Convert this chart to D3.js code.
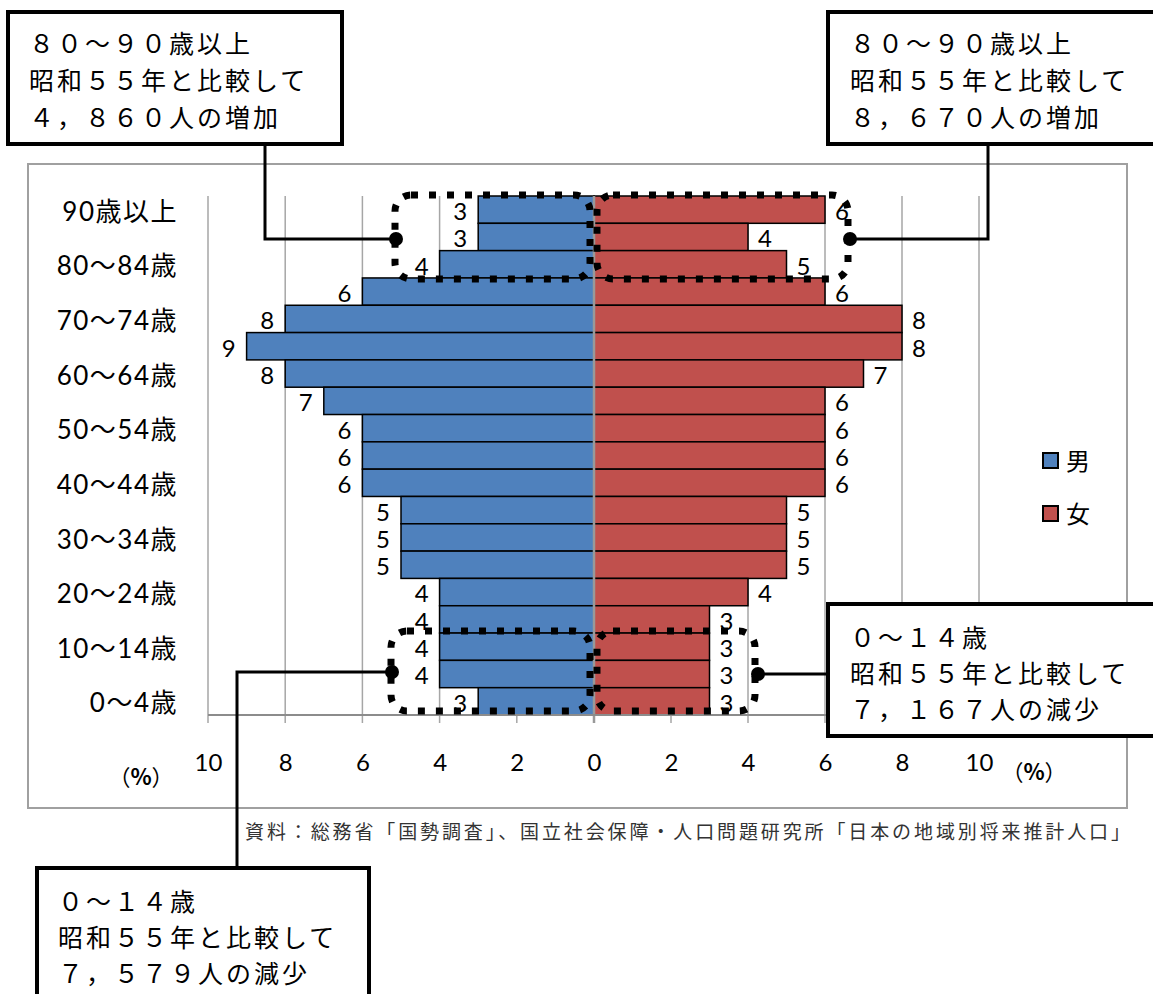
<!DOCTYPE html>
<html lang="ja">
<head>
<meta charset="utf-8">
<title>人口ピラミッド</title>
<script src="https://cdn.jsdelivr.net/npm/d3@7"></script>
<style>
  html, body { margin: 0; padding: 0; background: #fff; }
  svg { display: block; }
</style>
</head>
<body>
<div id="chart"></div>
<script>
// 年齢階級（上から順）
const ageGroups = ["90歳以上","85〜89歳","80〜84歳","75〜79歳","70〜74歳","65〜69歳","60〜64歳",
  "55〜59歳","50〜54歳","45〜49歳","40〜44歳","35〜39歳","30〜34歳","25〜29歳",
  "20〜24歳","15〜19歳","10〜14歳","5〜9歳","0〜4歳"];
// 構成比（%）
const maleShare   = [3,3,4,6,8,9,8,7,6,6,6,5,5,5,4,4,4,4,3];
const femaleShare = [6,4,5,6,8,8,7,6,6,6,6,5,5,5,4,3,3,3,3];
// 縦軸に表示する階級
const shownAgeLabels = ["90歳以上","80〜84歳","70〜74歳","60〜64歳","50〜54歳",
  "40〜44歳","30〜34歳","20〜24歳","10〜14歳","0〜4歳"];
const axisTicks = [0,2,4,6,8,10];
const seriesNames = ["男","女"];
const seriesColors = ["#4F81BD","#C0504D"];

const sourceNote = "資料：総務省「国勢調査」、国立社会保障・人口問題研究所「日本の地域別将来推計人口」";

// 吹き出しの文
const noteOldMale   = ["８０〜９０歳以上","昭和５５年と比較して","４，８６０人の増加"];
const noteOldFemale = ["８０〜９０歳以上","昭和５５年と比較して","８，６７０人の増加"];
const noteYoungFemale = ["０〜１４歳","昭和５５年と比較して","７，１６７人の減少"];
const noteYoungMale   = ["０〜１４歳","昭和５５年と比較して","７，５７９人の減少"];

const W = 1153, H = 994;
const svg = d3.select("#chart").append("svg")
  .attr("width", W).attr("height", H)
  .style("background", "#fff");

const numFont = "Lato, 'Noto Sans CJK JP', sans-serif";
const jpFont = "'Noto Sans CJK JP', sans-serif";

// 外枠
svg.append("rect")
  .attr("x", 28).attr("y", 164).attr("width", 1099).attr("height", 644)
  .attr("fill", "none").attr("stroke", "#a0a0a0").attr("stroke-width", 2);

const zeroX = 594, plotTop = 196, plotBottom = 715;
const xMale = d3.scaleLinear().domain([0, 10]).range([zeroX, 208]);
const xFemale = d3.scaleLinear().domain([0, 10]).range([zeroX, 979]);
const y = d3.scaleBand().domain(ageGroups).range([plotTop, plotBottom]).padding(0);

// 目盛線
const gridG = svg.append("g");
[xMale, xFemale].forEach(sc => {
  axisTicks.filter(t => t > 0).forEach(t => {
    gridG.append("line")
      .attr("x1", sc(t)).attr("x2", sc(t))
      .attr("y1", plotTop).attr("y2", plotBottom + 8)
      .attr("stroke", "#a6a6a6").attr("stroke-width", 1.5);
  });
});

// 棒
const barsG = svg.append("g");
barsG.selectAll("rect.male").data(ageGroups).join("rect")
  .attr("class", "male")
  .attr("x", (d, i) => xMale(maleShare[i]))
  .attr("y", d => y(d))
  .attr("width", (d, i) => zeroX - xMale(maleShare[i]))
  .attr("height", y.bandwidth())
  .attr("fill", seriesColors[0]).attr("stroke", "#000").attr("stroke-width", 1.5);
barsG.selectAll("rect.female").data(ageGroups).join("rect")
  .attr("class", "female")
  .attr("x", zeroX)
  .attr("y", d => y(d))
  .attr("width", (d, i) => xFemale(femaleShare[i]) - zeroX)
  .attr("height", y.bandwidth())
  .attr("fill", seriesColors[1]).attr("stroke", "#000").attr("stroke-width", 1.5);

// 中央線と横軸
svg.append("line")
  .attr("x1", zeroX).attr("x2", zeroX).attr("y1", plotTop).attr("y2", plotBottom + 8)
  .attr("stroke", "#999").attr("stroke-width", 2.5);
svg.append("line")
  .attr("x1", xMale(10)).attr("x2", xFemale(10)).attr("y1", plotBottom).attr("y2", plotBottom)
  .attr("stroke", "#8c8c8c").attr("stroke-width", 2);

// 目盛ラベル
[xMale, xFemale].forEach(sc => {
  const ax = svg.append("g").attr("transform", `translate(0,${plotBottom})`)
    .call(d3.axisBottom(sc).tickValues(sc === xMale ? axisTicks : axisTicks.filter(t => t > 0))
      .tickSize(0).tickPadding(0).tickFormat(d3.format("d")));
  ax.select(".domain").remove();
  ax.selectAll("text")
    .attr("y", 48).attr("dy", "0.35em")
    .attr("font-family", numFont).attr("font-size", 24).attr("fill", "#000");
});
// 単位（%）
[[141, 777], [1034, 772]].forEach(([ux, uy]) => {
  const t = svg.append("text")
    .attr("x", ux).attr("y", uy).attr("dy", "0.35em").attr("text-anchor", "middle")
    .attr("font-family", jpFont).attr("font-size", 22).attr("fill", "#000");
  t.append("tspan").text("（");
  t.append("tspan").text("%").attr("font-weight", 700);
  t.append("tspan").text("）");
});

// 年齢階級ラベル
svg.append("g").selectAll("text").data(shownAgeLabels).join("text")
  .text(d => d)
  .attr("x", 178).attr("y", d => y(d) + y.bandwidth() / 2 + 2).attr("dy", "0.35em")
  .attr("text-anchor", "end")
  .attr("font-family", numFont).attr("font-size", 26).attr("letter-spacing", 1.5).attr("fill", "#000");

// データラベル
const labG = svg.append("g")
  .attr("font-family", numFont).attr("font-size", 24).attr("fill", "#000").attr("text-anchor", "middle");
labG.selectAll("text.m").data(ageGroups).join("text").attr("class", "m")
  .text((d, i) => maleShare[i])
  .attr("x", (d, i) => xMale(maleShare[i]) - 18)
  .attr("y", d => y(d) + y.bandwidth() / 2 + 2).attr("dy", "0.35em");
labG.selectAll("text.f").data(ageGroups).join("text").attr("class", "f")
  .text((d, i) => femaleShare[i])
  .attr("x", (d, i) => xFemale(femaleShare[i]) + 17)
  .attr("y", d => y(d) + y.bandwidth() / 2 + 2).attr("dy", "0.35em");

// 凡例
const legG = svg.append("g");
seriesNames.forEach((name, i) => {
  const cy = 461 + i * 53;
  legG.append("rect").attr("x", 1043).attr("y", cy - 8).attr("width", 15).attr("height", 15)
    .attr("fill", seriesColors[i]).attr("stroke", "#000").attr("stroke-width", 2);
  legG.append("text").text(name).attr("x", 1066).attr("y", cy + 1).attr("dy", "0.35em")
    .attr("font-family", jpFont).attr("font-size", 24).attr("fill", "#000");
});

// 出典
svg.append("text").text(sourceNote)
  .attr("x", 245).attr("y", 832).attr("dy", "0.35em")
  .attr("textLength", 885).attr("lengthAdjust", "spacing")
  .attr("font-family", jpFont).attr("font-size", 19).attr("fill", "#333");

// 点線の囲み（80歳以上・0〜14歳）
const dotBox = (x0, x1, y0, y1) => svg.append("rect")
  .attr("x", x0).attr("y", y0).attr("width", x1 - x0).attr("height", y1 - y0)
  .attr("rx", 16).attr("ry", 16)
  .attr("fill", "none").attr("stroke", "#000").attr("stroke-width", 7)
  .attr("stroke-dasharray", "7,11");
const oldTop = y("90歳以上") - 1, oldBottom = y("80〜84歳") + y.bandwidth() + 1;
const youngTop = y("10〜14歳") - 2, youngBottom = plotBottom - 4;
dotBox(395, 590, oldTop, oldBottom);
dotBox(597, 848, oldTop, oldBottom);
dotBox(391, 590, youngTop, youngBottom);
dotBox(597, 755, youngTop, youngBottom);

// 引出線
const leader = (pts, dot) => {
  svg.append("path").attr("d", d3.line()(pts))
    .attr("fill", "none").attr("stroke", "#000").attr("stroke-width", 3);
  svg.append("circle").attr("cx", dot[0]).attr("cy", dot[1]).attr("r", 7).attr("fill", "#000");
};
leader([[265, 144], [265, 239], [396, 239]], [396, 239]);
leader([[988, 144], [988, 239], [850, 239]], [850, 239]);
leader([[828, 674], [758, 674]], [758, 674]);
leader([[237, 868], [237, 672], [392, 672]], [392, 672]);

// 吹き出しの枠と文
const noteBox = (x0, y0, w, h, lines, tx, firstCy, step) => {
  svg.append("rect").attr("x", x0).attr("y", y0).attr("width", w).attr("height", h)
    .attr("fill", "#fff").attr("stroke", "#000").attr("stroke-width", 4);
  svg.append("g").selectAll("text").data(lines).join("text")
    .text(d => d)
    .attr("x", tx).attr("y", (d, i) => firstCy + i * step).attr("dy", "0.38em")
    .attr("font-family", jpFont).attr("font-size", 25).attr("letter-spacing", 3)
    .attr("fill", "#000");
};
noteBox(8, 12, 334, 132, noteOldMale, 29, 43, 37);
noteBox(828, 12, 340, 132, noteOldFemale, 850, 43, 37);
noteBox(828, 604, 340, 132, noteYoungFemale, 850, 637, 36);
noteBox(37, 868, 332, 140, noteYoungMale, 58, 901, 36);
</script>
</body>
</html>
